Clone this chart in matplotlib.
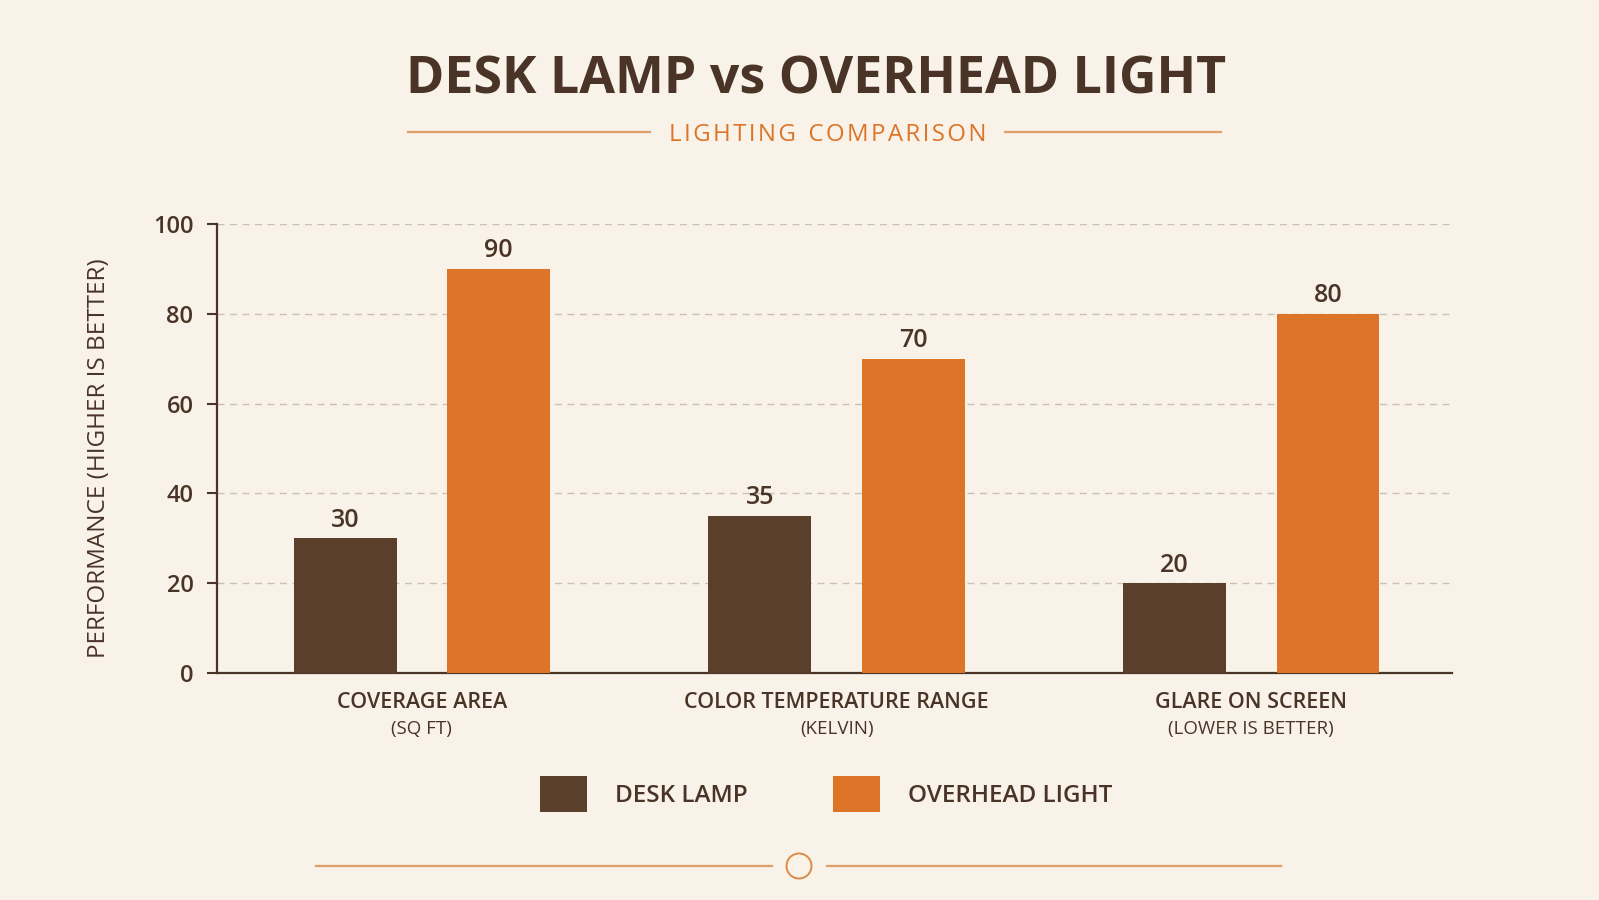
import matplotlib
matplotlib.use('Agg')
import matplotlib.pyplot as plt
from matplotlib.lines import Line2D
from matplotlib.patches import Ellipse
import numpy as np

# data
categories = ['COVERAGE AREA', 'COLOR TEMPERATURE RANGE', 'GLARE ON SCREEN']
subtitles = ['(SQ FT)', '(KELVIN)', '(LOWER IS BETTER)']
desk_lamp = [30, 35, 20]
overhead = [90, 70, 80]
series_names = ['DESK LAMP', 'OVERHEAD LIGHT']
yticks = [0, 20, 40, 60, 80, 100]

BG = '#F8F2E8'
TEXT = '#4A3427'
BROWN = '#5A3F2B'
ORANGE = '#DC7528'
GRID = '#C9C1B6'
LINE = '#E0A06A'

W, H = 1599, 900
plt.rcParams['font.family'] = ['Open Sans', 'DejaVu Sans']

fig = plt.figure(figsize=(W / 100, H / 100), dpi=100, facecolor=BG)
ax = fig.add_axes([217 / W, 1 - 673 / H, (1452 - 217) / W, (673 - 224) / H])
ax.set_facecolor(BG)

x = np.arange(len(categories))
bw = 0.248
off = 0.185
b1 = ax.bar(x - off, desk_lamp, bw, color=BROWN, label=series_names[0], zorder=3)
b2 = ax.bar(x + off, overhead, bw, color=ORANGE, label=series_names[1], zorder=3)

# value labels above bars
for bars, vals in ((b1, desk_lamp), (b2, overhead)):
    for rect, v in zip(bars, vals):
        ax.annotate(str(v), (rect.get_x() + rect.get_width() / 2, v),
                    xytext=(0, 13), textcoords='offset points',
                    ha='center', va='center', fontsize=18, fontweight='semibold', color=TEXT)

ax.set_xlim(-0.494, 2.484)
ax.set_ylim(0, 100)
ax.set_yticks(yticks)
ax.tick_params(axis='y', labelsize=17, colors=TEXT, length=7, width=1.5, pad=10)
for lab in ax.get_yticklabels():
    lab.set_fontweight('semibold')
ax.set_xticks([])
ax.yaxis.grid(True, linestyle=(0, (5, 4)), color=GRID, linewidth=1)
ax.set_axisbelow(True)
for s in ('top', 'right'):
    ax.spines[s].set_visible(False)
for s in ('left', 'bottom'):
    ax.spines[s].set_color(TEXT)
    ax.spines[s].set_linewidth(1.6)

# category labels (two lines)
for xi, cat, sub in zip(x, categories, subtitles):
    ax.annotate(cat, (xi, 0), xycoords=('data', 'axes fraction'),
                xytext=(0, -21.5), textcoords='offset points',
                ha='center', va='center', fontsize=15.5, fontweight='semibold', color=TEXT)
    ax.annotate(sub, (xi, 0), xycoords=('data', 'axes fraction'),
                xytext=(0, -40.5), textcoords='offset points',
                ha='center', va='center', fontsize=13.5, color=TEXT)

fig.text(99 / W, 1 - 458 / H, 'PERFORMANCE (HIGHER IS BETTER)', rotation=90,
         ha='center', va='center', fontsize=17.5, color=TEXT)

# title block
fig.text(816 / W, 1 - 80 / H, 'DESK LAMP vs OVERHEAD LIGHT', ha='center', va='center',
         fontsize=37.4, fontweight='bold', color=TEXT)
sub = '\u200a'.join('LIGHTING') + '  ' + '\u200a'.join('COMPARISON')
fig.text(828 / W, 1 - 135 / H, sub, ha='center', va='center', fontsize=17.3, color=ORANGE)
for x0, x1 in ((408, 650), (1005, 1221)):
    fig.add_artist(Line2D([x0 / W, x1 / W], [1 - 132 / H] * 2, color=LINE, lw=1.6))

# legend
fig.legend(handles=[b1, b2], loc='center', bbox_to_anchor=(826 / W, 1 - 794 / H),
           ncol=2, frameon=False, labelcolor=TEXT,
           prop={'weight': 'semibold', 'size': 17.5},
           handlelength=1.93, handleheight=1.9, handletextpad=1.15, columnspacing=3.5)

# bottom ornament
oy = 1 - 866 / H
fig.add_artist(Line2D([316 / W, 772 / W], [oy, oy], color=LINE, lw=1.6))
fig.add_artist(Line2D([827 / W, 1281 / W], [oy, oy], color=LINE, lw=1.6))
fig.add_artist(Ellipse((799 / W, oy), 25 / W, 25 / H, facecolor='none',
                       edgecolor='#DC8A45', lw=1.4, transform=fig.transFigure))

fig.savefig('out.png', dpi=100, facecolor=BG)
